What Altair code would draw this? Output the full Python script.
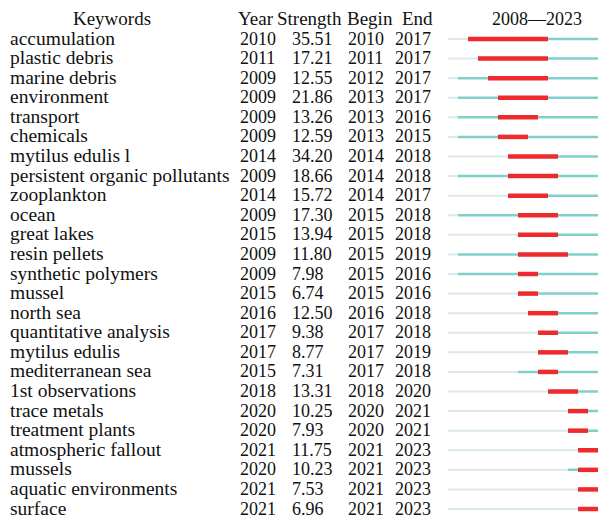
import altair as alt
import pandas as pd

keywords = ["accumulation", "plastic debris", "marine debris", "environment", "transport",
            "chemicals", "mytilus edulis l", "persistent organic pollutants", "zooplankton",
            "ocean", "great lakes", "resin pellets", "synthetic polymers", "mussel", "north sea",
            "quantitative analysis", "mytilus edulis", "mediterranean sea", "1st observations",
            "trace metals", "treatment plants", "atmospheric fallout", "mussels",
            "aquatic environments", "surface"]
years = [2010, 2011, 2009, 2009, 2009, 2009, 2014, 2009, 2014, 2009, 2015, 2009, 2009, 2015,
         2016, 2017, 2017, 2015, 2018, 2020, 2020, 2021, 2020, 2021, 2021]
strength = [35.51, 17.21, 12.55, 21.86, 13.26, 12.59, 34.20, 18.66, 15.72, 17.30, 13.94, 11.80,
            7.98, 6.74, 12.50, 9.38, 8.77, 7.31, 13.31, 10.25, 7.93, 11.75, 10.23, 7.53, 6.96]
begin = [2010, 2011, 2012, 2013, 2013, 2013, 2014, 2014, 2014, 2015, 2015, 2015, 2015, 2015,
         2016, 2017, 2017, 2017, 2018, 2020, 2020, 2021, 2021, 2021, 2021]
end = [2017, 2017, 2017, 2017, 2016, 2015, 2018, 2018, 2017, 2018, 2018, 2019, 2016, 2016,
       2018, 2018, 2019, 2018, 2020, 2021, 2021, 2023, 2023, 2023, 2023]
first_year, last_year = 2008, 2023

df = pd.DataFrame({"kw": keywords, "year": years, "strength": strength,
                   "begin": begin, "end": end})
df["t0"] = first_year
df["t1"] = last_year + 1
df["end1"] = df["end"] + 1

FONT = "Liberation Serif"
yenc = alt.Y("kw:N", sort=keywords, axis=None,
             scale=alt.Scale(type="point", range=[31, 501], padding=0))
xscale = alt.Scale(domain=[first_year, last_year + 1], range=[440, 600])

base = alt.Chart(df)

gray = base.mark_rule(color="#dbe9e8", strokeWidth=2).encode(
    x=alt.X("t0:Q", scale=xscale, axis=None), x2="year:Q", y=yenc)
teal = base.mark_rule(color="#7fcfcb", strokeWidth=2.5).encode(
    x=alt.X("year:Q", scale=xscale, axis=None), x2="t1:Q", y=yenc)
red = base.mark_rule(color="#ee2a2e", strokeWidth=4.5).encode(
    x=alt.X("begin:Q", scale=xscale, axis=None), x2="end1:Q", y=yenc)

def col(field, xpos, size, fmt=None):
    t = alt.Text(field, format=fmt) if fmt else alt.Text(field)
    return base.mark_text(font=FONT, fontSize=size, align="left", baseline="alphabetic",
                          dy=5.5, color="#111111").encode(x=alt.value(xpos), y=yenc, text=t)

texts = [col("kw:N", 2, 19.5), col("year:Q", 232, 18), col("strength:Q", 284, 18, ".2f"),
         col("begin:Q", 340, 18), col("end:Q", 387, 18)]

hdr_labels = ["Keywords", "Year", "Strength", "Begin", "End", f"{first_year}\u2014{last_year}"]
hdr_x = [104, 230, 269, 339, 394, 529]
hdr_align = ["center", "left", "left", "left", "left", "center"]
hdr_size = [19, 19, 19, 19, 19, 18]
headers = []
for lab, xp, al, sz in zip(hdr_labels, hdr_x, hdr_align, hdr_size):
    headers.append(alt.Chart(pd.DataFrame({"label": [lab]})).mark_text(
        font=FONT, fontSize=sz, align=al, baseline="alphabetic", color="#111111").encode(
        x=alt.value(xp), y=alt.value(17), text="label:N"))

chart = alt.layer(gray, teal, red, *texts, *headers).properties(
    width=590, height=509, padding=0, autosize=alt.AutoSizeParams(type="none")
).configure_view(stroke=None)

chart.save("out.html", embed_options={"renderer": "svg", "actions": False})
